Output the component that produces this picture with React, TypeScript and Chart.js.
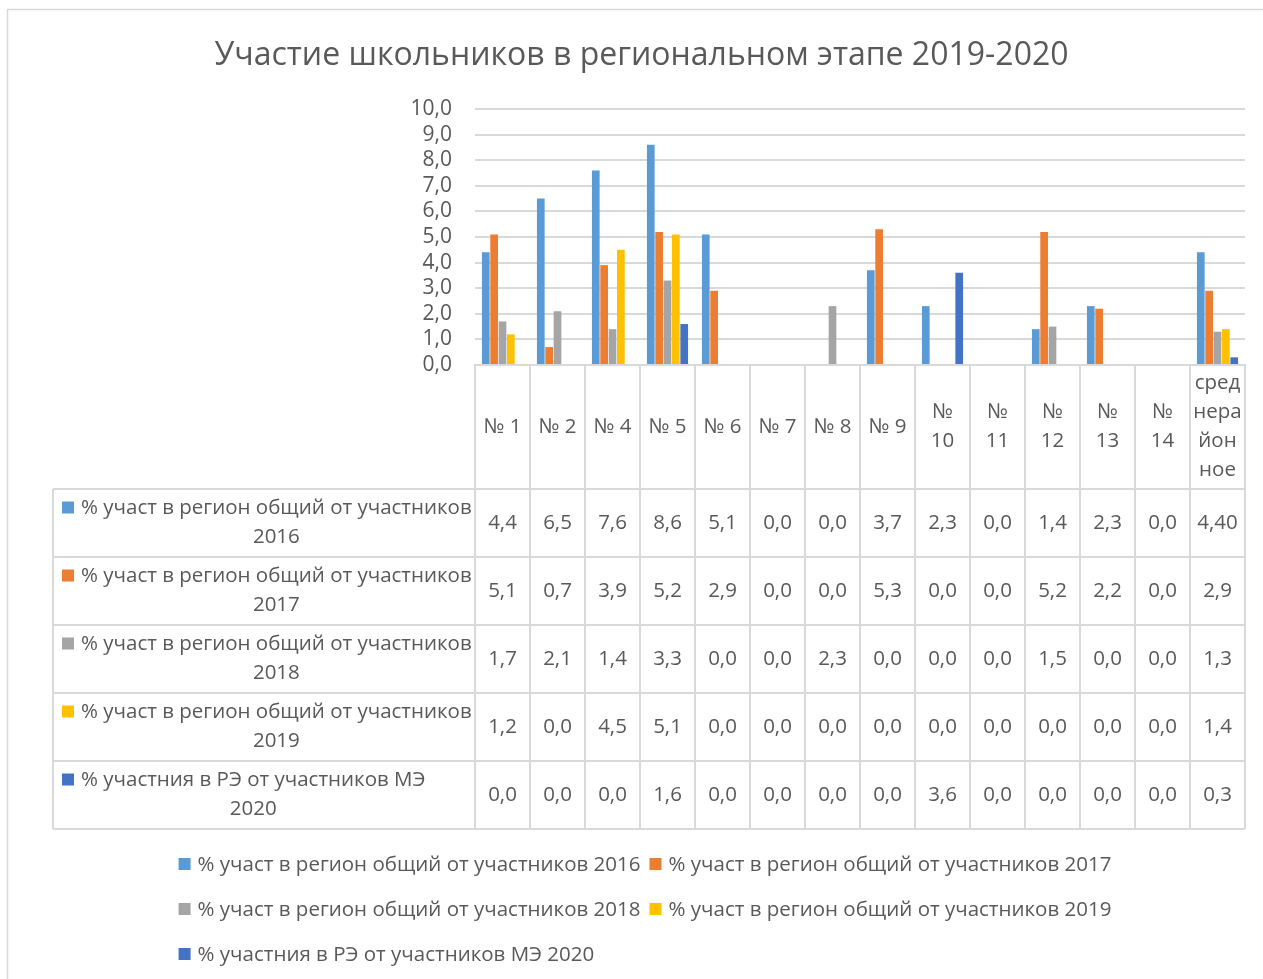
import { useEffect, useRef } from "react";
import { Chart, registerables } from "chart.js";

Chart.register(...registerables);

const chartTitle = "Участие школьников в региональном этапе 2019-2020";

const categories: string[][] = [
  ["№ 1"], ["№ 2"], ["№ 4"], ["№ 5"], ["№ 6"], ["№ 7"], ["№ 8"], ["№ 9"],
  ["№", "10"], ["№", "11"], ["№", "12"], ["№", "13"], ["№", "14"],
  ["сред", "нера", "йон", "ное"],
];

const seriesNames = [
  "% участ в регион общий от участников 2016",
  "% участ в регион общий от участников 2017",
  "% участ в регион общий от участников 2018",
  "% участ в регион общий от участников 2019",
  "% участния в РЭ от участников МЭ 2020",
];

const values2016 = [4.4, 6.5, 7.6, 8.6, 5.1, 0, 0, 3.7, 2.3, 0, 1.4, 2.3, 0, 4.4];
const values2017 = [5.1, 0.7, 3.9, 5.2, 2.9, 0, 0, 5.3, 0, 0, 5.2, 2.2, 0, 2.9];
const values2018 = [1.7, 2.1, 1.4, 3.3, 0, 0, 2.3, 0, 0, 0, 1.5, 0, 0, 1.3];
const values2019 = [1.2, 0, 4.5, 5.1, 0, 0, 0, 0, 0, 0, 0, 0, 0, 1.4];
const values2020 = [0, 0, 0, 1.6, 0, 0, 0, 0, 3.6, 0, 0, 0, 0, 0.3];

// decimals shown in the data table (the 2016 average is shown as "4,40")
const decimals2016 = [1, 1, 1, 1, 1, 1, 1, 1, 1, 1, 1, 1, 1, 2];

const seriesValues = [values2016, values2017, values2018, values2019, values2020];
const seriesColors = ["#5B9BD5", "#ED7D31", "#A5A5A5", "#FFC000", "#4472C4"];

const yMin = 0;
const yMax = 10;
const yStep = 1;

const TEXT = "#595959";
const LINE = "#d9d9d9";
const FONT = "'Open Sans', 'Noto Sans', sans-serif";
const BODY_SIZE = 20.5;

function fmt(v: number, d: number) {
  return v.toFixed(d).replace(".", ",");
}

function wrap(ctx: CanvasRenderingContext2D, text: string, maxW: number): string[] {
  const words = text.split(" ");
  const lines: string[] = [];
  let cur = "";
  for (const w of words) {
    const t = cur ? cur + " " + w : w;
    if (ctx.measureText(t).width > maxW && cur) {
      lines.push(cur);
      cur = w;
    } else cur = t;
  }
  if (cur) lines.push(cur);
  return lines;
}

const framePlugin = {
  id: "frame",
  beforeDraw(chart: any) {
    const { ctx, width, height } = chart;
    ctx.save();
    ctx.fillStyle = "#ffffff";
    ctx.fillRect(0, 0, width, height);
    ctx.strokeStyle = LINE;
    ctx.lineWidth = 1.5;
    ctx.beginPath();
    ctx.moveTo(7.5, height);
    ctx.lineTo(7.5, 9.5);
    ctx.lineTo(width, 9.5);
    ctx.stroke();
    ctx.restore();
  },
};

const tablePlugin = {
  id: "dataTable",
  afterDraw(chart: any) {
    const { ctx, chartArea, scales } = chart;
    const xs = scales.x;
    const top = chartArea.bottom;
    const headerH = 124;
    const rowH = 68;
    const leftX = 53;
    const right = chartArea.right;
    const half = (xs.getPixelForValue(1) - xs.getPixelForValue(0)) / 2;
    const bodyTop = top + headerH;
    const bottom = bodyTop + rowH * seriesNames.length;

    ctx.save();
    ctx.strokeStyle = LINE;
    ctx.lineWidth = 2;
    ctx.beginPath();
    ctx.moveTo(chartArea.left, top);
    ctx.lineTo(right, top);
    for (let r = 0; r <= seriesNames.length; r++) {
      const y = bodyTop + r * rowH;
      ctx.moveTo(leftX, y);
      ctx.lineTo(right, y);
    }
    ctx.moveTo(leftX, bodyTop);
    ctx.lineTo(leftX, bottom);
    for (let i = 0; i < categories.length; i++) {
      const xl = xs.getPixelForValue(i) - half;
      ctx.moveTo(xl, top);
      ctx.lineTo(xl, bottom);
    }
    ctx.moveTo(right, top);
    ctx.lineTo(right, bottom);
    ctx.stroke();

    ctx.fillStyle = TEXT;
    ctx.font = `${BODY_SIZE}px ${FONT}`;
    ctx.textBaseline = "middle";
    ctx.textAlign = "center";
    const lh = 29;

    categories.forEach((lines, i) => {
      const cx = xs.getPixelForValue(i);
      const cy = top + headerH / 2;
      lines.forEach((ln, k) => {
        ctx.fillText(ln, cx, cy + (k - (lines.length - 1) / 2) * lh);
      });
    });

    seriesNames.forEach((name, r) => {
      const cy = bodyTop + r * rowH + rowH / 2;
      const textLeft = 81;
      const lines = wrap(ctx, name, 393);
      const y0 = cy - ((lines.length - 1) / 2) * lh;
      ctx.fillStyle = seriesColors[r];
      ctx.fillRect(62, y0 - 7, 12, 12);
      ctx.fillStyle = TEXT;
      ctx.textAlign = "left";
      ctx.fillText(lines[0], textLeft, y0);
      const w1 = ctx.measureText(lines[0]).width;
      ctx.textAlign = "center";
      for (let k = 1; k < lines.length; k++) {
        ctx.fillText(lines[k], textLeft + w1 / 2, y0 + k * lh);
      }
      seriesValues[r].forEach((v, i) => {
        const d = r === 0 ? decimals2016[i] : 1;
        ctx.fillText(fmt(v, d), xs.getPixelForValue(i), cy);
      });
    });

    // legend
    ctx.font = `${BODY_SIZE}px ${FONT}`;
    const box = 12;
    const gapAfterBox = 7;
    const gapItems = 9;
    const widths = seriesNames.map((n) => box + gapAfterBox + ctx.measureText(n).width);
    const maxRow = 1150;
    const rows: number[][] = [];
    let cur: number[] = [];
    let curW = 0;
    widths.forEach((w, i) => {
      const add = cur.length ? gapItems + w : w;
      if (cur.length && curW + add > maxRow) {
        rows.push(cur);
        cur = [i];
        curW = w;
      } else {
        cur.push(i);
        curW += add;
      }
    });
    if (cur.length) rows.push(cur);
    const rowWidths = rows.map((row) => row.reduce((s, i, k) => s + widths[i] + (k ? gapItems : 0), 0));
    const blockW = Math.max(...rowWidths);
    const blockLeft = (leftX + right) / 2 - blockW / 2 - 4;
    const legTop = bottom + 36;
    rows.forEach((row, ri) => {
      let x = blockLeft;
      const y = legTop + ri * 45;
      row.forEach((i) => {
        ctx.fillStyle = seriesColors[i];
        ctx.fillRect(x, y - 7, box, box);
        ctx.fillStyle = TEXT;
        ctx.textAlign = "left";
        ctx.fillText(seriesNames[i], x + box + gapAfterBox, y);
        x += widths[i] + gapItems;
      });
    });
    ctx.restore();
  },
};

export default function App() {
  const ref = useRef<HTMLCanvasElement | null>(null);

  useEffect(() => {
    document.body.style.margin = "0";
    if (!ref.current) return;
    const chart = new Chart(ref.current, {
      type: "bar",
      data: {
        labels: categories.map((c) => c.join(" ")),
        datasets: seriesNames.map((name, i) => ({
          label: name,
          data: seriesValues[i],
          backgroundColor: seriesColors[i],
          borderWidth: 0,
          categoryPercentage: 0.76,
          barPercentage: 0.92,
        })),
      },
      options: {
        animation: false,
        responsive: false,
        devicePixelRatio: 1,
        layout: { padding: { top: 0, left: 38, right: 18, bottom: 150 } },
        plugins: {
          legend: { display: false },
          tooltip: { enabled: false },
          title: {
            display: true,
            text: chartTitle,
            color: TEXT,
            font: { family: FONT, size: 32, weight: "normal", lineHeight: 1.2 },
            padding: { top: 37, bottom: 33.6 },
          },
        },
        scales: {
          x: {
            grid: { display: false },
            border: { display: true, color: LINE, width: 2 },
            ticks: { display: false },
            afterFit: (s: any) => {
              s.height = 464;
            },
          },
          y: {
            min: yMin,
            max: yMax,
            grid: { color: LINE, lineWidth: 2, drawTicks: false },
            border: { display: false },
            ticks: {
              stepSize: yStep,
              autoSkip: false,
              padding: 23,
              color: TEXT,
              font: { family: FONT, size: 21, lineHeight: 1 },
              callback: (v: any) => fmt(Number(v), 1),
            },
            afterFit: (s: any) => {
              s.width = 437;
            },
          },
        },
      },
      plugins: [framePlugin, tablePlugin],
    });
    return () => chart.destroy();
  }, []);

  return (
    <div style={{ width: 1263, height: 979 }}>
      <canvas ref={ref} width={1263} height={979} />
    </div>
  );
}
